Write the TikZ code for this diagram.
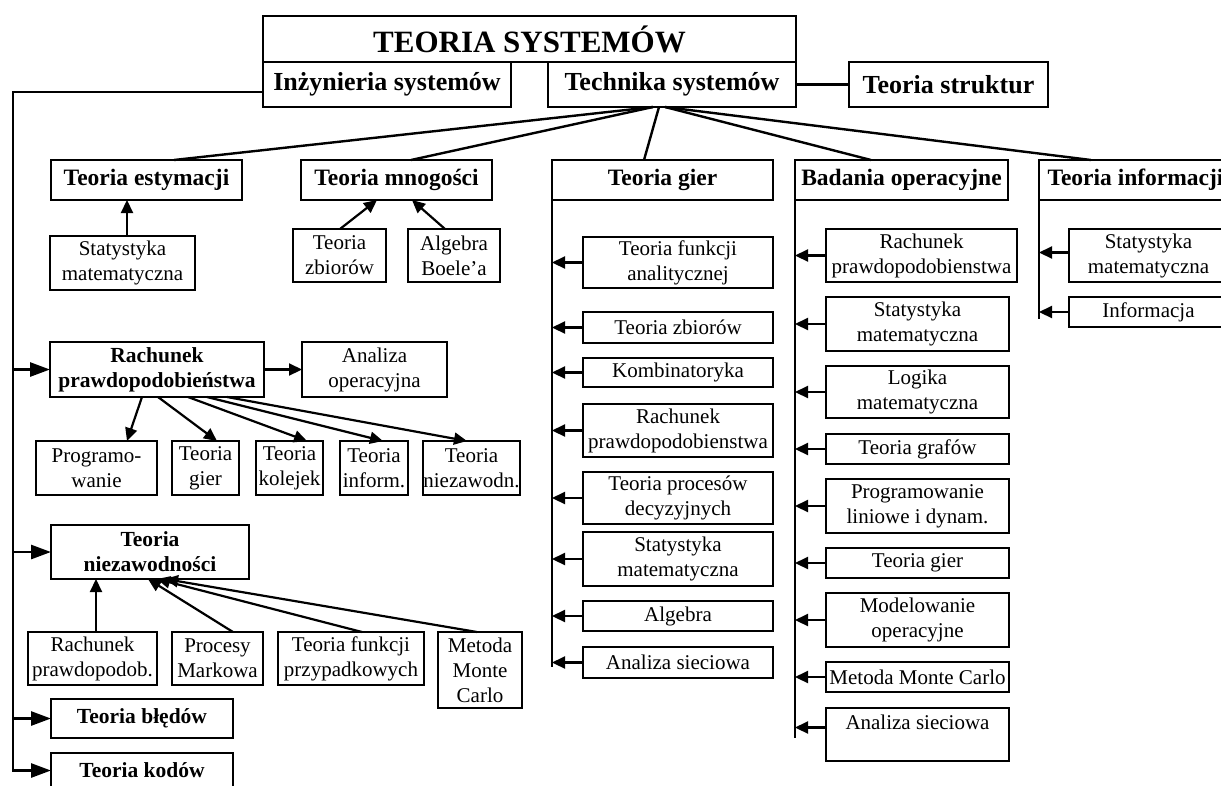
\documentclass[tikz,border=0pt]{standalone}
\usepackage{fontspec}
\setmainfont{Liberation Serif}
\usetikzlibrary{arrows.meta}
\newcommand\mybox[7]{\node[#1, minimum width={(#5)-(#3)}, minimum height={(#6)-(#4)}] (#2) at ({((#3)+(#5))/2},{((#4)+(#6))/2}) {#7};}
\tikzset{
 base/.style={draw, inner sep=0pt, outer sep=0pt, align=center},
 thk/.style={base, line width=2.8pt},
 thn/.style={base, line width=2pt},
 ftitle/.style={font=\fontsize{31}{36}\selectfont\bfseries},
 fhead/.style={font=\fontsize{26}{30}\selectfont\bfseries},
 fsub/.style={font=\fontsize{23.5}{27}\selectfont\bfseries},
 fsmb/.style={font=\fontsize{21.5}{25}\selectfont\bfseries},
 fnorm/.style={font=\fontsize{21}{25}\selectfont},
 conn/.style={line width=2.4pt},
 arr/.style={line width=2.2pt, -{Triangle[length=13pt,width=12pt]}},
 bigarr/.style={line width=2.8pt, -{Triangle[length=20pt,width=14pt]}},
 trunk/.style={line width=2.8pt},
}
\begin{document}
\begin{tikzpicture}[x=1pt,y=-1pt]
\useasboundingbox (0,0) rectangle (1221,785);
\fill[white] (0,0) rectangle (1221,785);
\clip (0,0) rectangle (1221,785);

% top
\mybox{thk,ftitle}{ts}{263}{16}{796}{62}{TEORIA SYSTEMÓW}
\mybox{thk,fhead}{inz}{263}{62}{511}{107}{Inżynieria systemów}
\mybox{thk,fhead}{tech}{548}{62}{796}{107}{Technika systemów}
\mybox{thk,fhead}{str}{849}{62}{1048}{107}{Teoria struktur}
\draw[conn] (tech.east) -- (str.west);

% second row
\mybox{thk,fsub}{est}{51}{160}{242}{200}{Teoria estymacji}
\mybox{thk,fsub}{mno}{301}{160}{492}{200}{Teoria mnogości}
\mybox{thk,fsub}{gier}{552}{160}{773}{200}{Teoria gier}
\mybox{thk,fsub}{bad}{795}{160}{1008}{200}{Badania operacyjne}
\mybox{thk,fsub}{inf}{1039}{160}{1232}{200}{Teoria informacji}
\draw[conn] ([xshift=-19pt]tech.south) -- ([xshift=27.5pt]est.north);
\draw[conn] ([xshift=-19pt]tech.south) -- ([xshift=14.5pt]mno.north);
\draw[conn] ([xshift=-13pt]tech.south) -- ([xshift=-18.5pt]gier.north);
\draw[conn] ([xshift=-7pt]tech.south) -- ([xshift=-30.5pt]bad.north);
\draw[conn] ([xshift=-7pt]tech.south) -- ([xshift=-44.5pt]inf.north);

% estymacja
\mybox{thn,fnorm}{stat1}{50}{236}{195}{290}{Statystyka\\matematyczna}
\draw[arr] ([xshift=4.5pt]stat1.north) -- ([xshift=4.5pt]stat1.north |- est.south);

% mnogosci
\mybox{thn,fnorm}{zb1}{293}{229}{386}{282}{Teoria\\zbiorów}
\mybox{thn,fnorm}{alg1}{408}{229}{500}{282}{Algebra\\Boele’a}
\draw[arr] ([xshift=0.5pt]zb1.north) -- ([xshift=-19.5pt]mno.south);
\draw[arr] ([xshift=-9pt]alg1.north) -- ([xshift=15.5pt]mno.south);

% left trunk
\coordinate (lt) at (13,92);
\mybox{thk,fsmb}{rach}{50}{342}{264}{397}{Rachunek\\prawdopodobieństwa}
\mybox{thn,fnorm}{anop}{302}{342}{447}{397}{Analiza\\operacyjna}
\mybox{thk,fsmb}{niez}{51}{525}{249}{579}{Teoria\\niezawodności}
\mybox{thk,fsmb}{bled}{51}{699}{233}{738}{Teoria błędów}
\mybox{thk,fsmb}{kod}{51}{753}{233}{788}{Teoria kodów}
\draw[bigarr] (inz.west |- lt) -- (lt) -- (lt |- kod.west) -- (kod.west);
\draw[bigarr] (rach.west -| lt) -- (rach.west);
\draw[bigarr] (niez.west -| lt) -- (niez.west);
\draw[bigarr] (bled.west -| lt) -- (bled.west);
\draw[arr] (rach.east) -- (anop.west);

\mybox{thn,fnorm}{prg}{36}{441}{157}{495}{Programo-\\wanie}
\mybox{thn,fnorm}{tg1}{172}{441}{239}{495}{Teoria\\gier}
\mybox{thn,fnorm}{tk1}{256}{441}{323}{495}{Teoria\\kolejek}
\mybox{thn,fnorm}{ti1}{340}{441}{408}{495}{Teoria\\inform.}
\mybox{thn,fnorm}{tn1}{423}{441}{520}{495}{Teoria\\niezawodn.}
\draw[arr] ([xshift=-15pt]rach.south) -- ([xshift=30.5pt]prg.north);
\draw[arr] ([xshift=1pt]rach.south) -- ([xshift=11.5pt]tg1.north);
\draw[arr] ([xshift=31pt]rach.south) -- ([xshift=17.5pt]tk1.north);
\draw[arr] ([xshift=50pt]rach.south) -- ([xshift=9pt]ti1.north);
\draw[arr] ([xshift=70pt]rach.south) -- ([xshift=-4.5pt]tn1.north);

\mybox{thn,fnorm}{rp2}{28}{632}{157}{685}{Rachunek\\prawdopodob.}
\mybox{thn,fnorm}{pm2}{172}{632}{263}{685}{Procesy\\Markowa}
\mybox{thn,fnorm}{tf2}{278}{632}{424}{685}{Teoria funkcji\\przypadkowych}
\mybox{thn,fnorm}{mc2}{438}{632}{522}{708}{Metoda\\Monte\\Carlo}
\draw[arr] ([xshift=3.5pt]rp2.north) -- ([xshift=3.5pt]rp2.north |- niez.south);
\draw[arr] ([xshift=15.5pt]pm2.north) -- ([xshift=-2pt]niez.south);
\draw[arr] ([xshift=11pt]tf2.north) -- ([xshift=7pt]niez.south);
\draw[arr] ([xshift=-3pt]mc2.north) -- ([xshift=15pt]niez.south);

% Teoria gier column
\coordinate (gb) at (552,667);
\draw[trunk] (gier.south west) -- (gier.south west |- gb);
\mybox{thn,fnorm}{tfa}{583}{237}{773}{288}{Teoria funkcji\\analitycznej}
\mybox{thn,fnorm}{tzb}{583}{312}{773}{343}{Teoria zbiorów}
\mybox{thn,fnorm}{kmb}{583}{358}{773}{387}{Kombinatoryka}
\mybox{thn,fnorm}{rpg}{583}{404}{773}{457}{Rachunek\\prawdopodobienstwa}
\mybox{thn,fnorm}{tpd}{583}{472}{773}{524}{Teoria procesów\\decyzyjnych}
\mybox{thn,fnorm}{smg}{583}{532}{773}{586}{Statystyka\\matematyczna}
\mybox{thn,fnorm}{alg}{583}{601}{773}{631}{Algebra}
\mybox{thn,fnorm}{asg}{583}{647}{773}{678}{Analiza sieciowa}
\foreach \n in {tfa,tzb,kmb,rpg,tpd,smg,alg,asg}
  \draw[arr] (\n.west) -- (\n.west -| gier.west);

% Badania column
\coordinate (bb) at (795,738);
\draw[trunk] (bad.south west) -- (bad.south west |- bb);
\mybox{thn,fnorm}{rpb}{826}{229}{1017}{282}{Rachunek\\prawdopodobienstwa}
\mybox{thn,fnorm}{smb}{826}{297}{1009}{351}{Statystyka\\matematyczna}
\mybox{thn,fnorm}{lmb}{826}{366}{1009}{418}{Logika\\matematyczna}
\mybox{thn,fnorm}{tgb}{826}{434}{1009}{464}{Teoria grafów}
\mybox{thn,fnorm}{plb}{826}{479}{1009}{533}{Programowanie\\liniowe i dynam.}
\mybox{thn,fnorm}{tgc}{826}{548}{1009}{578}{Teoria gier}
\mybox{thn,fnorm}{mob}{826}{593}{1009}{647}{Modelowanie\\operacyjne}
\mybox{thn,fnorm}{mcb}{826}{662}{1009}{692}{Metoda Monte Carlo}
\mybox{thn,fnorm}{asb}{826}{708}{1009}{761}{Analiza sieciowa\\\mbox{}}
\foreach \n in {rpb,smb,lmb,tgb,plb,tgc,mob,mcb}
  \draw[arr] (\n.west) -- (\n.west -| bad.west);
\draw[arr] ([yshift=7pt]asb.west) -- ([yshift=7pt]asb.west -| bad.west);

% Informacji column
\coordinate (ib) at (1039,319);
\draw[trunk] (inf.south west) -- (inf.south west |- ib);
\mybox{thn,fnorm}{smi}{1069}{229}{1228}{282}{Statystyka\\matematyczna}
\mybox{thn,fnorm}{infm}{1069}{297}{1228}{327}{Informacja}
\draw[arr] ([yshift=3pt]smi.west) -- ([yshift=3pt]smi.west -| inf.west);
\draw[arr] (infm.west) -- (infm.west -| inf.west);
\end{tikzpicture}
\end{document}
